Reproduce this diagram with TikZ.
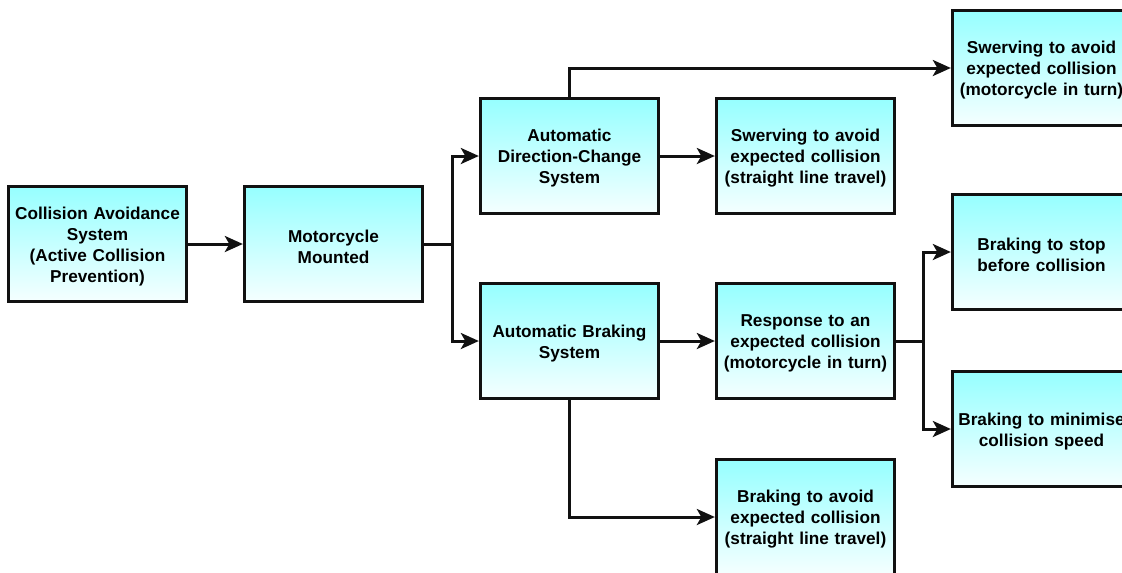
\documentclass[tikz,border=0pt]{standalone}
\usepackage{fontspec}
\setmainfont{Liberation Sans}
\usetikzlibrary{arrows.meta}
\definecolor{boxtop}{RGB}{150,255,255}
\definecolor{boxbot}{RGB}{245,255,255}
\definecolor{edge}{RGB}{17,17,17}
\tikzset{
  box/.style={draw=edge, line width=3.3pt, rectangle,
    top color=boxtop, bottom color=boxbot,
    minimum width=174pt, minimum height=115pt,
    text width=178pt, align=center, inner sep=0pt,
    font=\fontsize{17.2}{21}\selectfont\bfseries,
    execute at begin node={\rule{0pt}{17.5pt}}},
  conn/.style={draw=edge, line width=3pt,
    -{Stealth[length=18pt,width=16pt,inset=4.5pt]}},
  wire/.style={draw=edge, line width=3pt}
}
\begin{document}
\begin{tikzpicture}[x=1pt,y=-1pt]
\useasboundingbox (0,0) rectangle (1122,573);
\clip (0,0) rectangle (1122,573);

\node[box] (cas)   at (97.5,244)  {Collision Avoidance\\System\\(Active Collision\\Prevention)};
\node[box] (moto)  at (333.5,244) {Motorcycle\\Mounted};
\node[box] (adc)   at (569.5,156) {Automatic\\Direction-Change\\System};
\node[box] (swst)  at (805.5,156) {Swerving to avoid\\expected collision\\(straight line travel)};
\node[box] (swtu)  at (1041.5,68) {Swerving to avoid\\expected collision\\(motorcycle in turn)};
\node[box] (abs)   at (569.5,341) {Automatic Braking\\System};
\node[box] (resp)  at (805.5,341) {Response to an\\expected collision\\(motorcycle in turn)};
\node[box] (bstop) at (1041.5,252) {Braking to stop\\before collision};
\node[box] (bmin)  at (1041.5,429) {Braking to minimise\\collision speed};
\node[box] (bav)   at (805.5,517) {Braking to avoid\\expected collision\\(straight line travel)};

\coordinate (split1) at (452,244);
\coordinate (split2) at (923,341);

\draw[conn] (cas) -- (moto);
\draw[wire] (moto.east) -- (split1);
\draw[conn] (split1) |- (adc.west);
\draw[conn] (split1) |- (abs.west);
\draw[conn] (adc) -- (swst);
\draw[conn] (adc.north) |- (swtu.west);
\draw[conn] (abs) -- (resp);
\draw[conn] (abs.south) |- (bav.west);
\draw[wire] (resp.east) -- (split2);
\draw[conn] (split2) |- (bstop.west);
\draw[conn] (split2) |- (bmin.west);
\end{tikzpicture}
\end{document}
